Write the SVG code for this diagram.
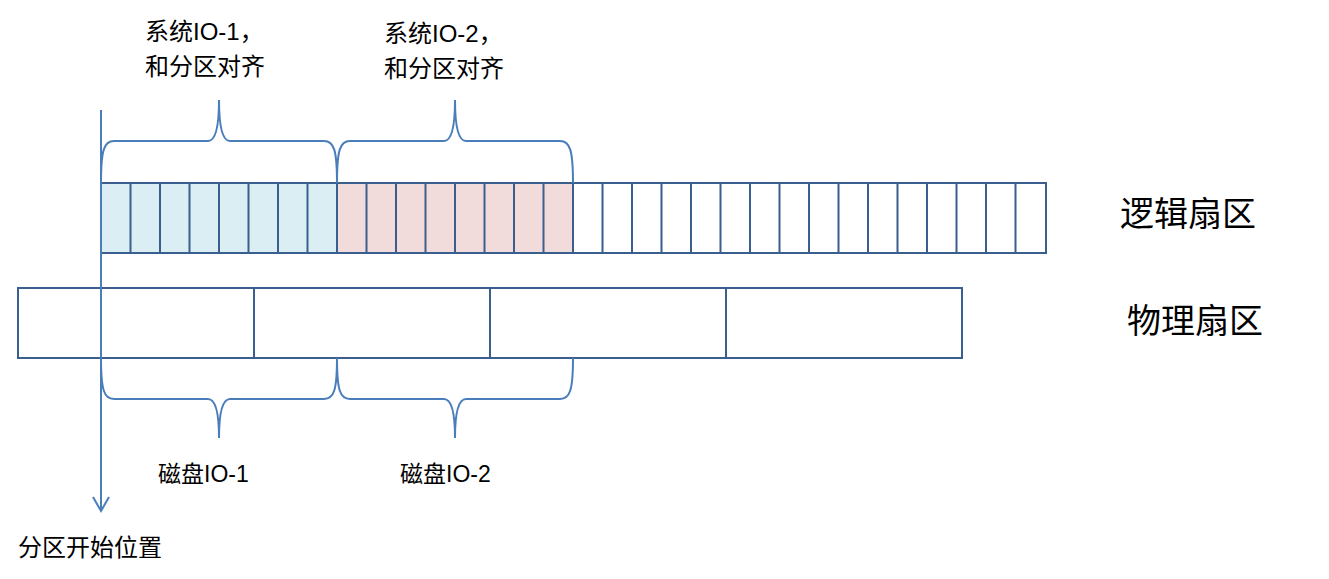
<svg xmlns="http://www.w3.org/2000/svg" width="1329" height="579" viewBox="0 0 1329 579">
<style>
.c{stroke:#3a5f8f;stroke-width:2}
.b{fill:none;stroke:#4a7ebb;stroke-width:2}
text{font-family:"Liberation Sans","Noto Sans CJK SC",sans-serif;fill:#000}
</style>
<rect width="1329" height="579" fill="#fff"/>
<g id="logical">
<rect x="101" y="183" width="236" height="70" fill="#daeef3"/>
<rect x="337" y="183" width="236" height="70" fill="#f2dcdb"/>
<rect x="101" y="183" width="945" height="70" fill="none" class="c"/>
<path class="c" fill="none" d="M130.5,183V253M160,183V253M189.5,183V253M219,183V253M248.5,183V253M278,183V253M307.5,183V253M337,183V253M366.5,183V253M396,183V253M425.5,183V253M455,183V253M484.5,183V253M514,183V253M543.5,183V253M573,183V253M602.5,183V253M632,183V253M661.5,183V253M691,183V253M720.5,183V253M750,183V253M779.5,183V253M809,183V253M838.5,183V253M868,183V253M897.5,183V253M927,183V253M956.5,183V253M986,183V253M1015.5,183V253"/>
<text x="1120" y="226" font-size="34">逻辑扇区</text>
</g>
<g id="physical">
<rect x="18" y="288" width="944" height="70" fill="none" class="c"/>
<path class="c" d="M254,288V358M490,288V358M726,288V358"/>
<text x="1127" y="333" font-size="34">物理扇区</text>
</g>
<g id="connectors">
<path class="b" d="M101,183C101,150 104,141 114,141L208,141C215,141 219,130 219,100C219,130 223,141 230,141L324,141C334,141 337,150 337,183"/>
<path class="b" d="M337,183C337,150 340,141 350,141L444,141C451,141 455,130 455,100C455,130 459,141 466,141L560,141C570,141 573,150 573,183"/>
<path class="b" d="M101,358C101,390 104,399 114,399L208,399C215,399 219,410 219,438C219,410 223,399 230,399L324,399C334,399 337,390 337,358"/>
<path class="b" d="M337,358C337,390 340,399 350,399L444,399C451,399 455,410 455,438C455,410 459,399 466,399L560,399C570,399 573,390 573,358"/>
<path class="b" d="M101,110V510M93,497L101,511L109,497"/>
</g>
<g id="labels">
<text x="145" y="40" font-size="24">系统IO-1，</text>
<text x="145" y="75" font-size="24">和分区对齐</text>
<text x="384" y="42" font-size="24">系统IO-2，</text>
<text x="384" y="77" font-size="24">和分区对齐</text>
<text x="158" y="482" font-size="23">磁盘IO-1</text>
<text x="400" y="482" font-size="23">磁盘IO-2</text>
<text x="18" y="556" font-size="24">分区开始位置</text>
</g>
</svg>
